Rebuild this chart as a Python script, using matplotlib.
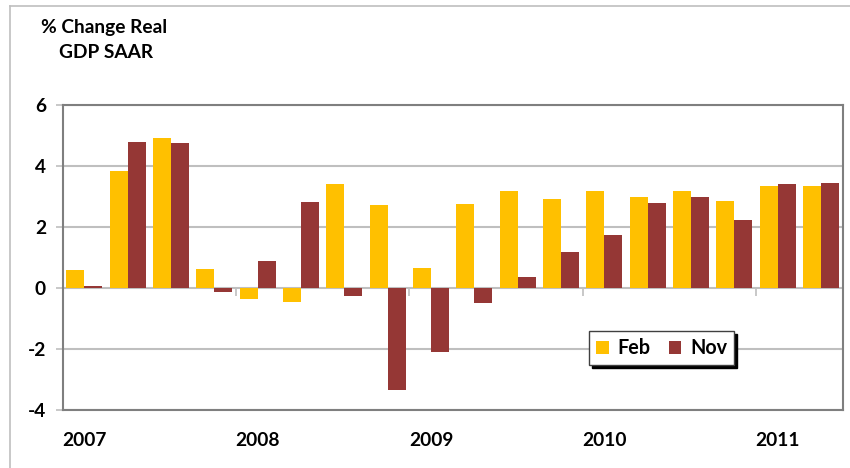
import matplotlib.pyplot as plt
from matplotlib.lines import Line2D
import numpy as np

# ---------------------------------------------------------------------------
# Data: quarterly % change real GDP SAAR, Feb vs Nov vintage
# ---------------------------------------------------------------------------
feb = [0.59, 3.84, 4.92, 0.62, -0.38, -0.45, 3.41, 2.72, 0.66,
       2.75, 3.18, 2.92, 3.18, 2.98, 3.18, 2.85, 3.34, 3.34]
nov = [0.07, 4.79, 4.75, -0.15, 0.88, 2.82, -0.25, -3.33, -2.09,
       -0.48, 0.36, 1.18, 1.74, 2.79, 2.98, 2.23, 3.41, 3.44]
year_labels = ["2007", "2008", "2009", "2010", "2011"]
yticks = [-4, -2, 0, 2, 4, 6]

FEB_COLOR = "#FFC000"
NOV_COLOR = "#953735"
GRID_COLOR = "#BFBFBF"
FRAME_COLOR = "#7F7F7F"
FS = 13.8

plt.rcParams["font.family"] = ["Lato", "DejaVu Sans"]
plt.rcParams["font.weight"] = "bold"

fig = plt.figure(figsize=(8.5, 4.68), dpi=100)
ax = fig.add_axes([62.7 / 850, 58 / 468, 780 / 850, 305.3 / 468])

x = np.arange(len(feb))
w = 0.415
ax.bar(x - w / 2, feb, width=w, color=FEB_COLOR, label="Feb", zorder=3)
ax.bar(x + w / 2, nov, width=w, color=NOV_COLOR, label="Nov", zorder=3)

ax.set_xlim(-0.5, len(feb) - 0.5)
ax.set_ylim(-4, 6)
ax.set_yticks(yticks)
ax.set_yticklabels([str(v) for v in yticks], fontsize=FS, fontweight="bold")
ax.yaxis.grid(True, color=GRID_COLOR, linewidth=1.5, zorder=0)
ax.tick_params(axis="y", direction="out", length=5, width=1.2, color=GRID_COLOR, pad=7)

# year labels at first quarter of each year, at the bottom
ax.set_xticks(x[::4])
ax.set_xticklabels(year_labels, fontsize=FS, fontweight="bold")
ax.tick_params(axis="x", length=0, pad=16)

# tick marks on the zero line at year boundaries
sec = ax.secondary_xaxis(0.4)
sec.set_xticks(np.arange(3.5, len(feb) - 1, 4))
sec.set_xticklabels([])
sec.tick_params(direction="out", length=6, width=1.2, color=GRID_COLOR)
sec.spines["bottom"].set_visible(False)

for spine in ax.spines.values():
    spine.set_edgecolor(FRAME_COLOR)
    spine.set_linewidth(1.5)

leg = ax.legend(loc="upper left", bbox_to_anchor=(0.675, 0.258), ncol=2,
                fontsize=14.2, frameon=True, fancybox=False,
                shadow={"color": "black", "alpha": 1.0},
                edgecolor="#404040", handlelength=0.65, handleheight=0.65,
                handletextpad=0.45, columnspacing=0.9, borderpad=0.35,
                borderaxespad=0)
leg.get_frame().set_linewidth(1.0)

# chart title, top-left
fig.text(41 / 850, 1 - 27 / 468, "% Change Real", fontsize=FS,
         fontweight="bold", va="center", ha="left")
fig.text(59 / 850, 1 - 53 / 468, "GDP SAAR", fontsize=FS,
         fontweight="bold", va="center", ha="left")

# light outer chart frame (top and left edges)
fig.add_artist(Line2D([9.5 / 850, 9.5 / 850], [0, 1 - 6 / 468],
                      color=GRID_COLOR, linewidth=1.2))
fig.add_artist(Line2D([9.5 / 850, 1], [1 - 6 / 468, 1 - 6 / 468],
                      color=GRID_COLOR, linewidth=1.2))

fig.savefig("out.png", dpi=100)
